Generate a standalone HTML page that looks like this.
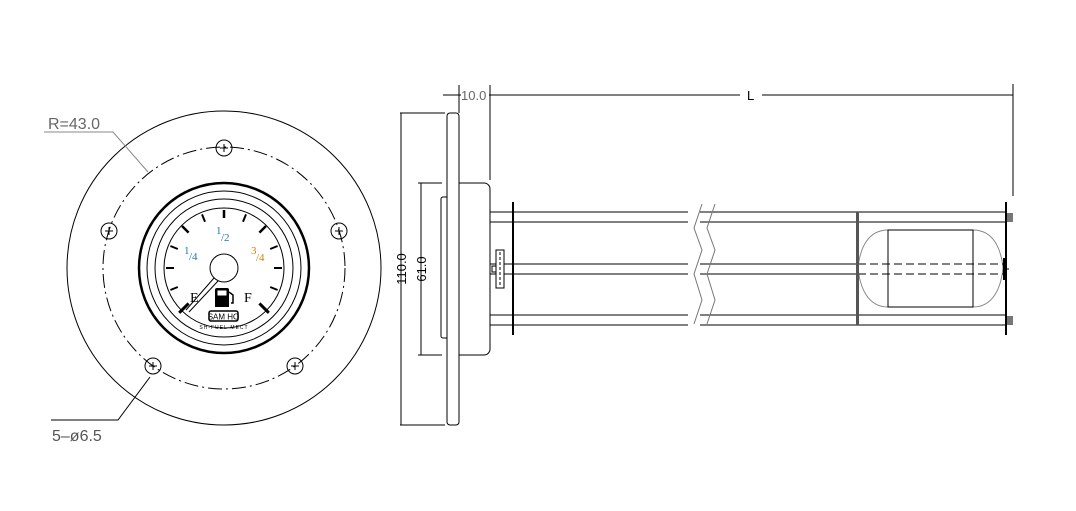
<!DOCTYPE html>
<html><head><meta charset="utf-8"><style>
html,body{margin:0;padding:0;background:#fff;width:1076px;height:511px;overflow:hidden}
svg text{font-family:"Liberation Sans",sans-serif}
svg text.serif{font-family:"Liberation Serif",serif}
</style></head><body>
<svg width="1076" height="511" viewBox="0 0 1076 511" xmlns="http://www.w3.org/2000/svg">
<g fill="none" stroke="#000" stroke-width="1">
<circle cx="224" cy="268" r="157"/>
<circle cx="224" cy="268" r="121" stroke-dasharray="14 4 2 4"/>
<g>
<circle cx="224" cy="148" r="8"/><circle cx="339" cy="231" r="8"/><circle cx="295" cy="366" r="8"/><circle cx="153" cy="366" r="8"/><circle cx="109" cy="231" r="8"/>
<path d="M220 148h8M224 144v8M335 231h8M339 227v8M291 366h8M295 362v8M149 366h8M153 362v8M105 231h8M109 227v8"/>
</g>
<circle cx="224" cy="268" r="85" stroke-width="2.5"/>
<circle cx="224" cy="268" r="77"/>
<circle cx="224" cy="268" r="69"/>
<circle cx="224" cy="268" r="60"/>
<circle cx="224" cy="268" r="14"/>
<path d="M44 132h69L148 172" stroke="#888"/>
<path d="M51 420h67L150 377"/>
<path d="M214 278L186 310M218 281L189 312"/>
</g>
<text class="serif" x="190" y="302" font-size="14" fill="#000">E</text>
<text class="serif" x="244" y="302" font-size="14" fill="#000">F</text>
<text class="serif" x="184" y="254" fill="#1a7ab5" font-size="11">1</text><text class="serif" x="189" y="260" fill="#1a7ab5" font-size="11">/4</text>
<text class="serif" x="216" y="234" fill="#1a7ab5" font-size="11">1</text><text class="serif" x="221" y="241" fill="#1a7ab5" font-size="11">/2</text>
<text class="serif" x="251" y="254" fill="#c8860a" font-size="11">3</text><text class="serif" x="256" y="261" fill="#c8860a" font-size="11">/4</text>
<path d="M215 307v-17a2 2 0 0 1 2-2h10a2 2 0 0 1 2 2v17z" fill="#000"/>
<rect x="217.5" y="290.5" width="9" height="5" fill="#fff"/>
<path d="M229 292l4 3v8h-2" stroke="#000" fill="none" stroke-width="1.5"/>
<rect x="209" y="311" width="29" height="10" rx="2" fill="#fff" stroke="#000" stroke-width="1.5"/>
<text x="223.5" y="319.5" font-size="8" text-anchor="middle">SAM HO</text>
<text x="224" y="329" font-size="5" text-anchor="middle" letter-spacing="1">SH-FUEL-MECT</text>
<text x="48" y="129" font-size="16" fill="#666">R=43.0</text>
<text x="52" y="441" font-size="16" fill="#555">5–ø6.5</text>
<g fill="none" stroke="#000" stroke-width="1">
<path d="M400 113h45M400 425h45M401 113v312"/>
<path d="M418 183h24M418 355h24M421 183v172"/>
<rect x="447" y="113" width="12" height="312" rx="3"/>
<path d="M459 183h25a6 6 0 0 1 6 6v160a6 6 0 0 1 -6 6h-25"/>
<path d="M447 197h-4a2 2 0 0 0 -2 2v137a2 2 0 0 0 2 2h4"/>
<path d="M443 95h570M459 85v28M490 85v95M1013 84v112"/>
<path d="M490 212h198M490 222h198M490 264h198M490 274h198M490 315h198M490 325h198"/>
<path d="M700 212h305M700 222h305M700 264h160M700 274h160M700 315h305M700 325h305"/>
<path d="M702 204l-8 24l8 22l-8 24l8 26l-8 24M715 204l-8 24l8 22l-8 24l8 26l-8 24" stroke="#777"/>
<rect x="496" y="250" width="8" height="38" fill="#fff"/>
<rect x="492" y="266" width="4" height="6"/>
<path d="M500 252v34" stroke-dasharray="3 2"/>
<path d="M888 230c-20 0-28 18-30 38c2 20 10 39 30 39M973 230c20 0 28 18 30 38c-2 20-10 39-30 39" stroke="#888"/>
<rect x="888" y="230" width="85" height="77" fill="#fff"/>
<path d="M858 264h145M858 274h145" stroke-dasharray="8 4"/>
<path d="M1003 269h6M1005 263v12"/>
</g>
<rect x="512" y="202" width="2" height="133" fill="#000"/>
<rect x="856" y="212" width="3" height="113" fill="#555"/>
<rect x="1005" y="202" width="2" height="133" fill="#000"/>
<rect x="1003" y="258" width="3" height="22" fill="#000"/>
<rect x="1007" y="213" width="6" height="9" fill="#777"/>
<rect x="1007" y="316" width="6" height="9" fill="#777"/>
<rect x="461" y="86" width="28" height="16" fill="#fff"/>
<text x="461" y="100" font-size="13" fill="#666">10.0</text>
<rect x="740" y="88" width="22" height="14" fill="#fff"/>
<text x="747" y="100" font-size="13" fill="#000">L</text>
<text transform="translate(406 269) rotate(-90)" font-size="13" text-anchor="middle" fill="#000">110.0</text>
<text transform="translate(426 269) rotate(-90)" font-size="13" text-anchor="middle" fill="#000">61.0</text>
<g stroke="#000" stroke-width="2">
<line x1="188.6" y1="303.4" x2="179.2" y2="312.8" stroke-width="3"/>
<line x1="259.4" y1="303.4" x2="268.8" y2="312.8" stroke-width="3"/>
<line x1="174" y1="268" x2="166" y2="268"/>
<line x1="274" y1="268" x2="282" y2="268"/>
<line x1="224" y1="218" x2="224" y2="210" stroke-width="2.5"/>
<line x1="188.6" y1="232.6" x2="182" y2="226" stroke-width="2.5"/>
<line x1="259.4" y1="232.6" x2="266" y2="226" stroke-width="2.5"/>
<line x1="177.8" y1="287" x2="170.4" y2="290"/>
<line x1="270.2" y1="287" x2="277.6" y2="290"/>
<line x1="177.8" y1="249" x2="170.4" y2="246"/>
<line x1="270.2" y1="249" x2="277.6" y2="246"/>
<line x1="205" y1="221.8" x2="202" y2="214.4"/>
<line x1="243" y1="221.8" x2="246" y2="214.4"/>
</g>
</svg>
</body></html>
